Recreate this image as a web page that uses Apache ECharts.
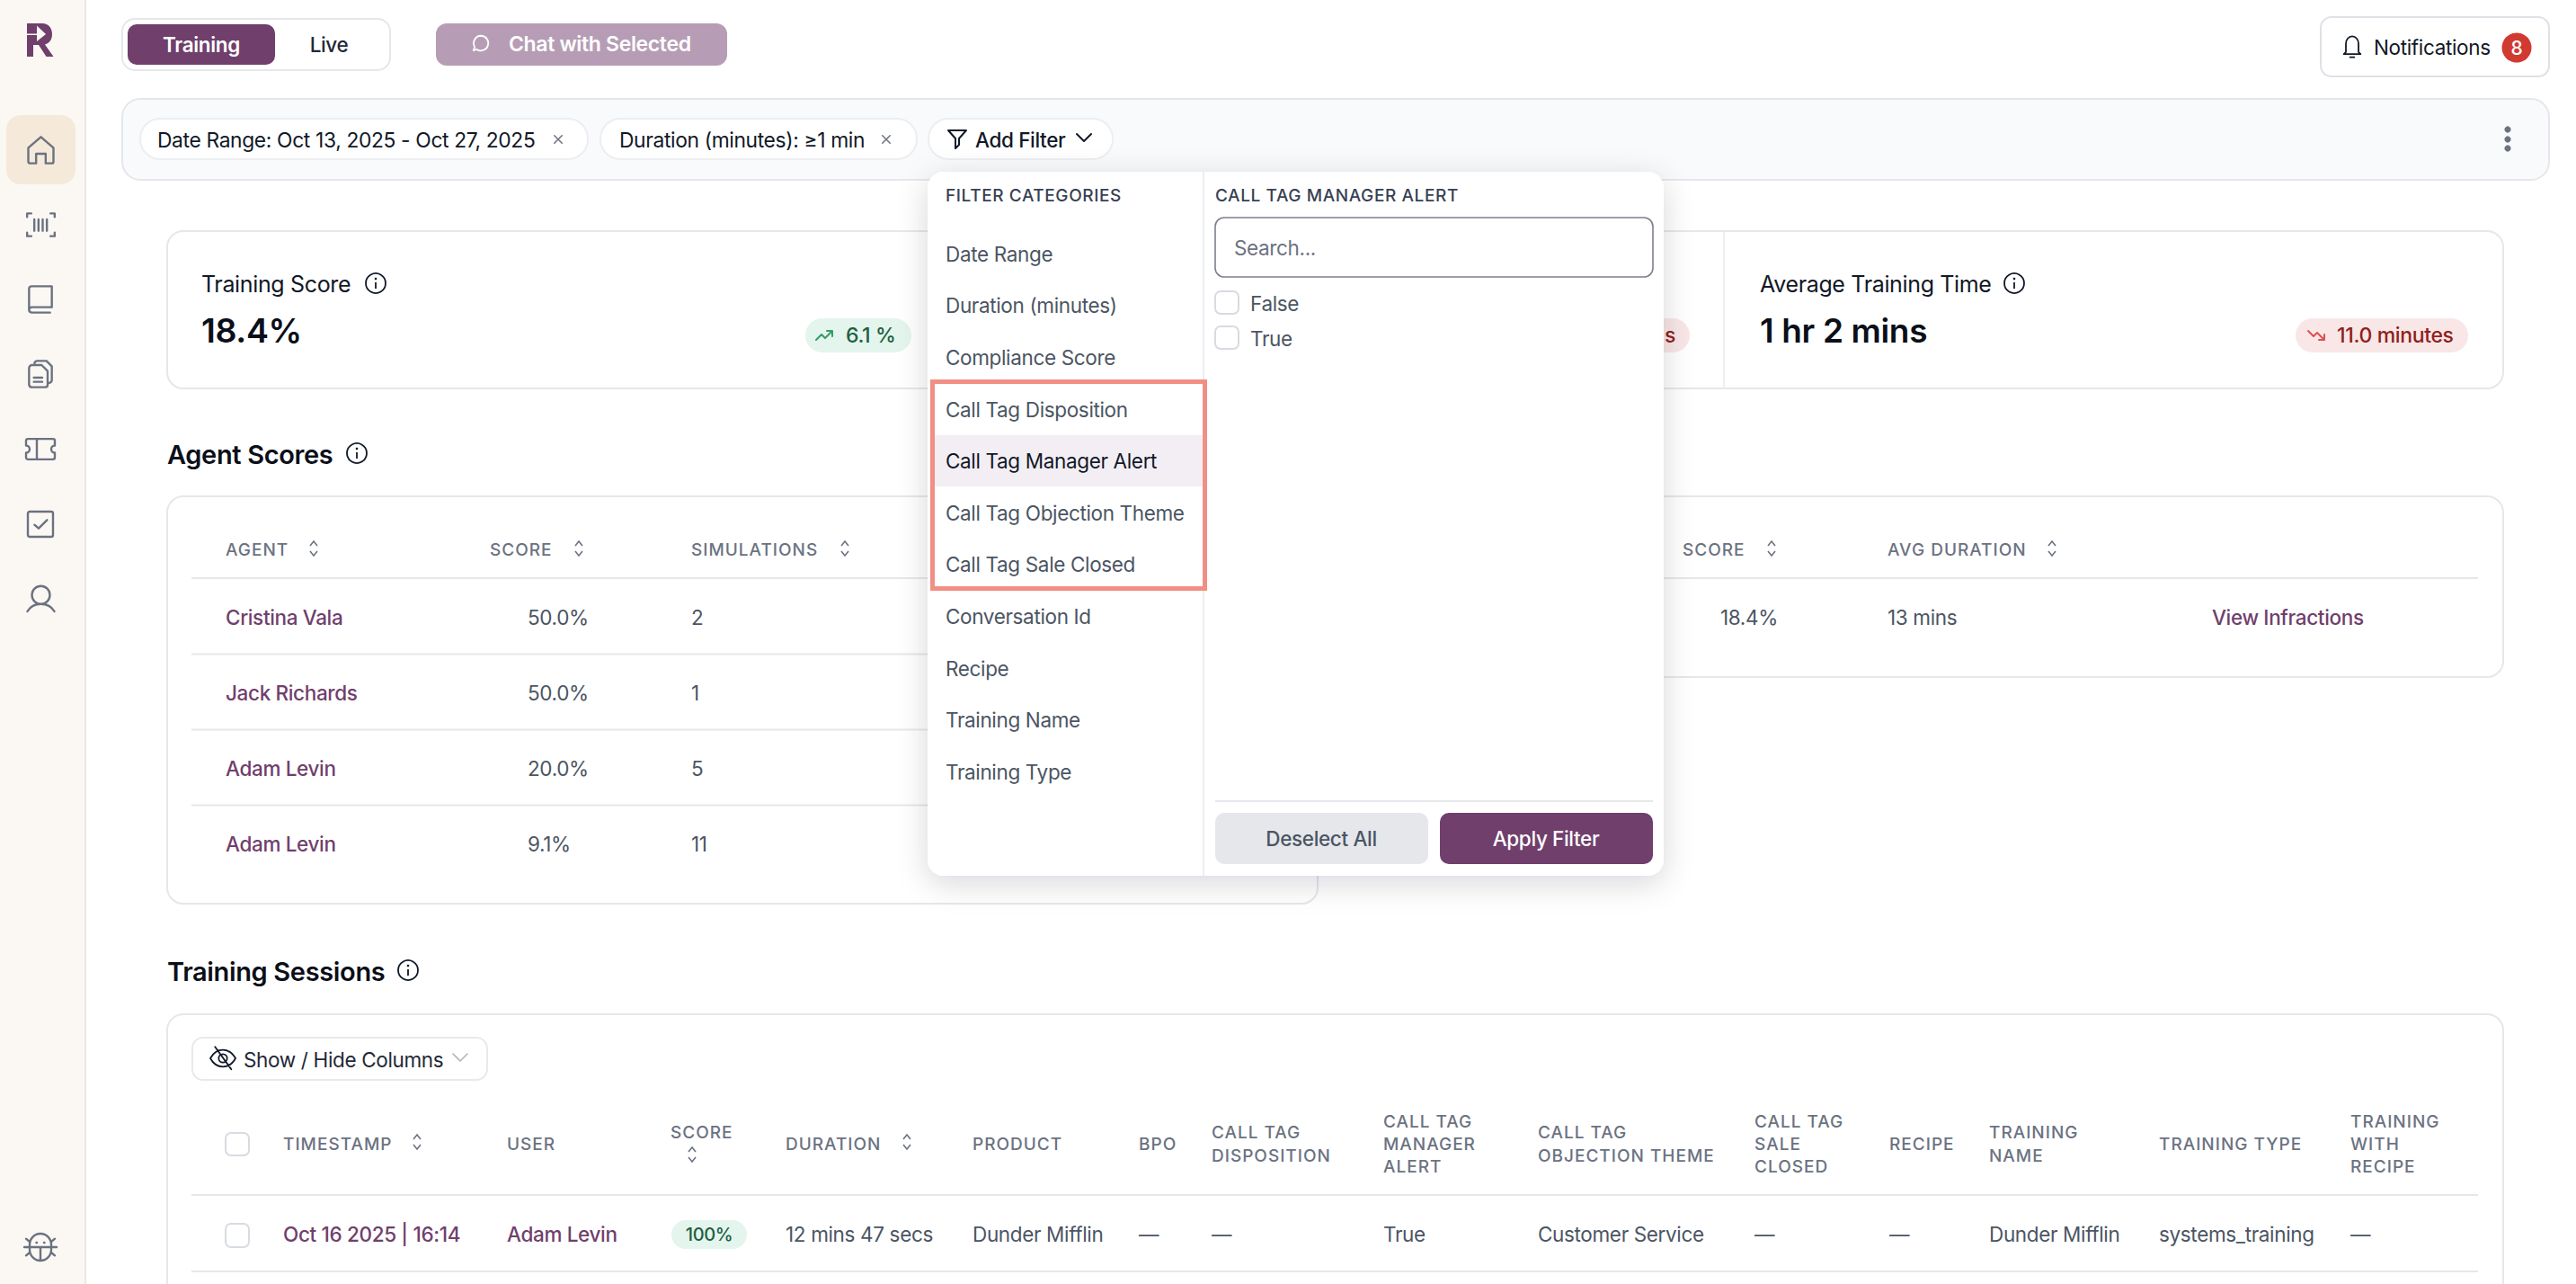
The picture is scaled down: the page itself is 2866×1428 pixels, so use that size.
<!DOCTYPE html>
<html>
<head>
<meta charset="utf-8">
<title>Training dashboard</title>
<style>
html, body { margin: 0; padding: 0; background: #fff; }
#main { width: 2866px; height: 1428px; }
/* echarts text has no letter spacing option, so it goes on by fill colour */
svg text { letter-spacing: -0.35px; }
svg text[fill="#6b7281"] { letter-spacing: 1px; }
svg text[fill="#374152"] { letter-spacing: 0.6px; }
</style>
<script src="https://cdn.jsdelivr.net/npm/echarts@6/dist/echarts.min.js"></script>
</head>
<body>
<div id="main"></div>
<script>
var filterCategories = ['Date Range', 'Duration (minutes)', 'Compliance Score', 'Call Tag Disposition', 'Call Tag Manager Alert', 'Call Tag Objection Theme', 'Call Tag Sale Closed', 'Conversation Id', 'Recipe', 'Training Name', 'Training Type'];
var filterOptions = ['False', 'True'];
var agentHeaders = ['AGENT', 'SCORE', 'SIMULATIONS'];
var agentNames = ['Cristina Vala', 'Jack Richards', 'Adam Levin', 'Adam Levin'];
var agentScores = ['50.0%', '50.0%', '20.0%', '9.1%'];
var agentSimulations = ['2', '1', '5', '11'];
var sideHeaders = ['SCORE', 'AVG DURATION'];
var sideRow = ['18.4%', '13 mins', 'View Infractions'];
var sessionHeaders = [['TIMESTAMP'], ['USER'], ['SCORE'], ['DURATION'], ['PRODUCT'], ['BPO'], ['CALL TAG', 'DISPOSITION'], ['CALL TAG', 'MANAGER', 'ALERT'], ['CALL TAG', 'OBJECTION THEME'], ['CALL TAG', 'SALE', 'CLOSED'], ['RECIPE'], ['TRAINING', 'NAME'], ['TRAINING TYPE'], ['TRAINING', 'WITH', 'RECIPE']];
var sessionRow = ['Oct 16 2025 | 16:14', 'Adam Levin', '100%', '12 mins 47 secs', 'Dunder Mifflin', '—', '—', 'True', 'Customer Service', '—', '—', 'Dunder Mifflin', 'systems_training', '—'];

var PURPLE = '#703f6c', LINE = '#e5e7eb', BODY = '#4b5563', INK = '#111827', HEAD = '#6b7281', FONT = 'Inter';
var TXT = 22.5, CHIP = 22.8, PILL = 23, CAPS = 19;
var els = [];
var pathCount = 0;

function rect(x, y, w, h, r, fill, stroke, lw, extra) {
    var style = {fill: fill || 'none', stroke: stroke || 'none', lineWidth: lw || 0};
    for (var k in extra) { style[k] = extra[k]; }
    els.push({type: 'rect', silent: true, shape: {x: x, y: y, width: w, height: h, r: r}, style: style});
}
function text(s, x, y, size, color, weight, align) {
    els.push({type: 'text', silent: true, x: x, y: y, style: {
        text: s, fill: color, fontFamily: FONT, fontSize: size, fontWeight: weight || 400,
        textAlign: align || 'left', textVerticalAlign: 'middle'
    }});
}
function hline(x1, x2, y, color) {
    els.push({type: 'line', silent: true, shape: {x1: x1, y1: y, x2: x2, y2: y}, style: {stroke: color || LINE, lineWidth: 2}});
}
// graphic has no path type, so each svg path gets registered as a shape
function pathEl(d, props, style) {
    var name = 'uiPath' + (pathCount++);
    echarts.graphic.registerShape(name, echarts.graphic.extendPath(d, {}));
    var el = {type: name, silent: true, style: style};
    for (var k in props) { el[k] = props[k]; }
    els.push(el);
}
// stroke icon on a 24 unit grid, centred on x,y
function icon(d, x, y, size, color, lw) {
    var s = size / 24;
    pathEl(d, {x: x - 12 * s, y: y - 12 * s, scaleX: s, scaleY: s},
        {fill: 'none', stroke: color, lineWidth: (lw || 2) / s, lineCap: 'round', lineJoin: 'round'});
}
function sortIcon(x, y) {
    var d = 'M' + (x - 4) + ' ' + (y - 3) + 'L' + x + ' ' + (y - 8) + 'L' + (x + 4) + ' ' + (y - 3) +
        'M' + (x - 4) + ' ' + (y + 3) + 'L' + x + ' ' + (y + 8) + 'L' + (x + 4) + ' ' + (y + 3);
    pathEl(d, {}, {fill: 'none', stroke: '#6b7280', lineWidth: 1.6});
}
function infoIcon(x, y) {
    els.push({type: 'circle', silent: true, shape: {cx: x, cy: y, r: 11}, style: {fill: 'none', stroke: INK, lineWidth: 1.8}});
    els.push({type: 'line', silent: true, shape: {x1: x, y1: y - 1, x2: x, y2: y + 6}, style: {stroke: INK, lineWidth: 1.8}});
    els.push({type: 'circle', silent: true, shape: {cx: x, cy: y - 5, r: 1.3}, style: {fill: INK}});
}
function checkbox(x, y, w, h) {
    rect(x, y, w, h, 6, '#fff', '#d8dbe1', 2);
}

var ICONS = {
    home: 'M1.5 10L12 1L22.5 10V21.5A1.5 1.5 0 0 1 21 23H16V15H8V23H3A1.5 1.5 0 0 1 1.5 21.5Z',
    scan: 'M0.5 5.5V2.5H4M20 2.5H23.5V5.5M23.5 18.5V21.5H20M4 21.5H0.5V18.5M6.5 7.5V17M10 7.5V17M13.5 7.5V17M17 7.5V17',
    book: 'M2.5 21V3A2 2 0 0 1 4.5 1H21.5V18.5H5C3.5 18.5 2.5 19.5 2.5 21C2.5 22 3.5 23 5 23H20',
    docs: 'M2.5 7A2.5 2.5 0 0 1 5 4.5H13L18 9.5V21A2 2 0 0 1 16 23H5A2.5 2.5 0 0 1 2.5 21ZM7 3A2.5 2.5 0 0 1 9.5 1H17L21.5 5.5V17A2.5 2.5 0 0 1 19 19.5H18M6.5 15H13.5M6.5 18.5H13.5',
    ticket: 'M0 5A1.5 1.5 0 0 1 1.5 3.5H22.5A1.5 1.5 0 0 1 24 5V9A3 3 0 0 0 24 15V19A1.5 1.5 0 0 1 22.5 20.5H1.5A1.5 1.5 0 0 1 0 19V15A3 3 0 0 0 0 9ZM9 3.5V20.5',
    check: 'M3 1.5H21A1.5 1.5 0 0 1 22.5 3V21A1.5 1.5 0 0 1 21 22.5H3A1.5 1.5 0 0 1 1.5 21V3A1.5 1.5 0 0 1 3 1.5ZM7 12.5L10.5 15.5L17.5 8.5',
    user: 'M12 1.3A7.5 7.5 0 1 1 12 16.3A7.5 7.5 0 1 1 12 1.3ZM0.7 22.5C3 18.5 7 16.3 12 16.3C17 16.3 21 18.5 23.3 22.5',
    bug: 'M3 10A9 9.25 0 0 1 21 10V14A9 9.25 0 0 1 3 14ZM-1.5 12H25.5M12 12V23M3 7.5L0 5M21 7.5L24 5M3 16.5L0 19M21 16.5L24 19M8.6 8.2H9M15 8.2H15.4',
    bell: 'M6 17V9A6 7 0 0 1 18 9V17L20 19H4ZM10 22H14',
    funnel: 'M2 2H22L14 11V18L10 22V11Z',
    chevron: 'M6 9L12 15L18 9',
    bubble: 'M12 3A9 9 0 1 1 7 19.5L3 21L4.5 16.5A9 9 0 0 1 12 3Z',
    eyeoff: 'M0 12C3 6.5 7 4 12 4C17 4 21 6.5 24 12C21 17.5 17 20 12 20C7 20 3 17.5 0 12ZM12 8A4 4 0 1 1 12 16A4 4 0 0 1 12 8ZM4.5 1L20 22.5',
    up: 'M3 17L9 11L13 15L21 7M15 7H21V13',
    down: 'M3 7L9 13L13 9L21 17M15 17H21V11',
    close: 'M6 6L18 18M18 6L6 18'
};

// sidebar
rect(0, 0, 95, 1428, 0, '#fbf8f4');
els.push({type: 'line', silent: true, shape: {x1: 95, y1: 0, x2: 95, y2: 1428}, style: {stroke: '#ebe8e4', lineWidth: 2}});
pathEl('M30 26H47C54 26 58 31 58 38C58 44 55 48 50 49.5L59.5 63H51.5L43 50H37V63H30Z', {}, {fill: PURPLE});
pathEl('M41 28.5L51 38L41 46ZM30 37.5H41V39H30Z', {}, {fill: '#fbf8f4'});
rect(7, 128, 77, 77, 16, '#f5e9da');
var sideIcons = [['home', 45.5, 167], ['scan', 45.5, 250], ['book', 45, 333], ['docs', 45, 416], ['ticket', 45, 499.5], ['check', 45, 583], ['user', 45.5, 666], ['bug', 45, 1387]];
for (var i = 0; i < sideIcons.length; i++) {
    icon(ICONS[sideIcons[i][0]], sideIcons[i][1], sideIcons[i][2], 32, '#6b7280', 2.4);
}

// top bar
rect(136, 21, 298, 57, 14, '#fff', LINE, 2);
rect(142, 27, 164, 45, 10, PURPLE);
text('Training', 224, 49, TXT, '#fff', 600, 'center');
text('Live', 366, 49, TXT, '#1f2937', 500, 'center');
rect(485, 26, 324, 47, 12, '#b69db5');
icon(ICONS.bubble, 535, 48, 22, '#fff', 1.8);
text('Chat with Selected', 566, 49, PILL, '#fff', 600);
rect(2582, 19, 254, 66, 12, '#fff', '#dfe1e6', 2);
icon(ICONS.bell, 2617, 52, 28, INK, 1.8);
text('Notifications', 2641, 52, TXT, INK, 400);
els.push({type: 'circle', silent: true, shape: {cx: 2800, cy: 53, r: 16.5}, style: {fill: '#d13a30'}});
text('8', 2800, 53, 21, '#fff', 500, 'center');

// filter bar
rect(136, 110, 2700, 90, 20, '#f9fafb', LINE, 2);
rect(156, 132, 498, 45, 22, '#fff', '#eceef1', 2);
text('Date Range: Oct 13, 2025 - Oct 27, 2025', 175, 155, CHIP, INK);
icon(ICONS.close, 621, 155, 17, '#6b7280', 1.5);
rect(668, 132, 352, 45, 22, '#fff', '#eceef1', 2);
text('Duration (minutes): ≥1 min', 689, 155, CHIP, INK);
icon(ICONS.close, 986, 155, 17, '#6b7280', 1.5);
rect(1033, 132, 205, 45, 22, '#fff', '#eceef1', 2);
icon(ICONS.funnel, 1065, 155, 24, INK, 2);
text('Add Filter', 1085, 155, TXT, INK, 500);
icon(ICONS.chevron, 1206, 153, 32, INK, 2);
var dots = [144, 155, 165];
for (i = 0; i < dots.length; i++) {
    els.push({type: 'circle', silent: true, shape: {cx: 2790, cy: dots[i], r: 3.6}, style: {fill: '#6b7280'}});
}

// kpi card
rect(186, 257, 2599, 175, 18, '#fff', LINE, 2);
els.push({type: 'line', silent: true, shape: {x1: 1918, y1: 258, x2: 1918, y2: 431}, style: {stroke: '#eeeff2', lineWidth: 2}});
text('Training Score', 224, 316, 25, INK);
infoIcon(418, 315);
text('18.4%', 224, 367, 37.5, '#0b0f19', 600);
rect(896, 354, 118, 38, 19, '#e3f5ec');
icon(ICONS.up, 917, 373, 24, '#3a9a6b', 2);
text('6.1 %', 941, 373, PILL, '#1f5e43', 500);
text('Average Training Time', 1958, 316, 25, INK);
infoIcon(2241, 315);
text('1 hr 2 mins', 1958, 367, 37, '#0b0f19', 600);
rect(1700, 354, 180, 38, 19, '#f9e7e7');
text('s', 1852, 373, PILL, '#8f2020', 500);
rect(2554, 354, 192, 38, 19, '#f9e7e7');
icon(ICONS.down, 2577, 373, 24, '#d9534f', 2);
text('11.0 minutes', 2600, 373, PILL, '#8f2020', 500);

// agent scores
text('Agent Scores', 186, 505, 29, '#0b0f19', 600);
infoIcon(397, 504);
rect(186, 552, 1280, 453, 18, '#fff', LINE, 2);
var agentHeadX = [251, 545, 769], agentSortX = [349, 644, 940];
for (i = 0; i < agentHeaders.length; i++) {
    text(agentHeaders[i], agentHeadX[i], 611, CAPS, HEAD, 500);
    sortIcon(agentSortX[i], 610);
}
hline(213, 1440, 643);
var rowY = [686, 770, 854, 938];
for (i = 0; i < agentNames.length; i++) {
    text(agentNames[i], 251, rowY[i], TXT, PURPLE, 500);
    text(agentScores[i], 587, rowY[i], TXT, BODY);
    text(agentSimulations[i], 769, rowY[i], TXT, BODY);
    if (i < agentNames.length - 1) { hline(213, 1440, rowY[i] + 41.5); }
}

// right hand table, mostly under the popup
rect(1490, 552, 1295, 201, 18, '#fff', LINE, 2);
text(sideHeaders[0], 1872, 611, CAPS, HEAD, 500);
sortIcon(1971, 610);
text(sideHeaders[1], 2100, 611, CAPS, HEAD, 500);
sortIcon(2283, 610);
hline(1510, 2757, 643);
text(sideRow[0], 1914, 686, TXT, BODY);
text(sideRow[1], 2100, 686, TXT, BODY);
text(sideRow[2], 2461, 686, TXT, PURPLE, 500);

// training sessions
text('Training Sessions', 186, 1080, 29, '#0b0f19', 600);
infoIcon(454, 1079);
rect(186, 1128, 2599, 400, 18, '#fff', LINE, 2);
rect(214, 1154, 328, 47, 12, '#fff', '#e8e9ee', 2);
icon(ICONS.eyeoff, 248, 1177, 28, INK, 1.8);
text('Show / Hide Columns', 271, 1178, TXT, '#1f2937');
icon(ICONS.chevron, 512, 1176, 32, '#b0b5bd', 1.6);
checkbox(251, 1260, 26, 25);
var colX = [315, 564, 746, 874, 1082, 1267, 1348, 1539, 1711, 1952, 2102, 2213, 2402, 2615];
var lineYs = {1: [1272], 2: [1259, 1285], 3: [1247, 1272, 1297]};
for (i = 0; i < sessionHeaders.length; i++) {
    var rows = sessionHeaders[i];
    var ys = lineYs[rows.length];
    for (var j = 0; j < rows.length; j++) {
        text(rows[j], colX[i], i === 2 ? 1259 : ys[j], CAPS, HEAD, 500);
    }
}
sortIcon(464, 1270);
sortIcon(770, 1284);
sortIcon(1009, 1270);
hline(213, 2757, 1329);
checkbox(251, 1361, 26, 26);
rect(747, 1357, 84, 32, 16, '#e3f5ec');
for (i = 0; i < sessionRow.length; i++) {
    if (i === 2) {
        text(sessionRow[i], 789, 1373, 20, '#1f5e43', 500, 'center');
    } else if (i < 2) {
        text(sessionRow[i], colX[i], 1372, TXT, PURPLE, 500);
    } else {
        text(sessionRow[i], colX[i], 1372, TXT, BODY);
    }
}
hline(213, 2757, 1414);

// filter popup
rect(1032, 191, 819, 783, 18, '#fff', null, 0, {shadowBlur: 34, shadowColor: 'rgba(17,24,39,0.16)', shadowOffsetY: 8});
els.push({type: 'line', silent: true, shape: {x1: 1339, y1: 191, x2: 1339, y2: 974}, style: {stroke: '#eceef1', lineWidth: 2}});
text('FILTER CATEGORIES', 1052, 217, CAPS, '#374152', 500);
text('CALL TAG MANAGER ALERT', 1352, 217, CAPS, '#374152', 500);
rect(1038, 484, 301, 57, 0, '#f3eef4');
var catY = [282, 339, 397, 455, 512, 570, 627, 685, 743, 800, 858];
for (i = 0; i < filterCategories.length; i++) {
    text(filterCategories[i], 1052, catY[i], TXT, i === 4 ? INK : BODY);
}
rect(1037.5, 424.5, 303, 230, 0, 'none', '#f28f84', 5);
rect(1352, 242, 487, 66, 10, '#fff', '#7b818c', 1.6);
text('Search...', 1373, 275, TXT, '#6b7280');
var optY = [337, 376];
for (i = 0; i < filterOptions.length; i++) {
    checkbox(1352, optY[i] - 13, 26, 25);
    text(filterOptions[i], 1391, optY[i], TXT, BODY);
}
hline(1352, 1839, 891);
rect(1352, 904, 237, 57, 10, '#e5e7eb');
text('Deselect All', 1470, 932, TXT, BODY, 500, 'center');
rect(1602, 904, 237, 57, 10, PURPLE);
text('Apply Filter', 1720, 932, TXT, '#fff', 500, 'center');

var chart = echarts.init(document.getElementById('main'), null, {renderer: 'svg'});
chart.setOption({
    backgroundColor: '#fff',
    animation: false,
    graphic: {elements: els}
});
</script>
</body>
</html>
